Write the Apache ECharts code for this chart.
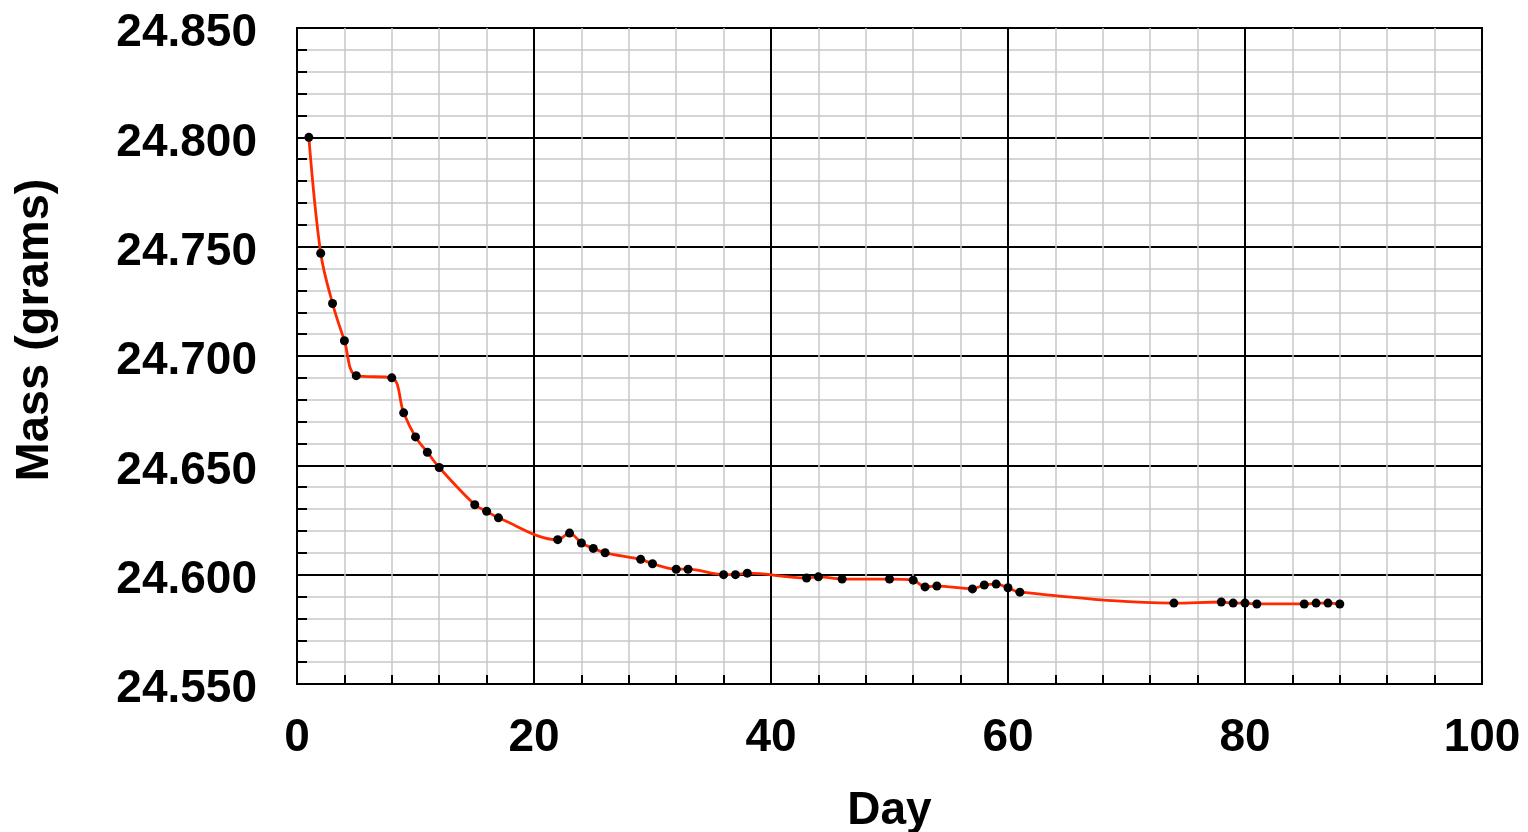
<!DOCTYPE html>
<html>
<head>
<meta charset="utf-8">
<script src="https://cdn.jsdelivr.net/npm/echarts@6/dist/echarts.min.js"></script>
<style>
html,body{margin:0;padding:0;background:#fff;}
#chart{width:1528px;height:832px;}
</style>
</head>
<body>
<div id="chart"></div>
<script>
const days = [1,2,3,4,5,8,9,10,11,12,15,16,17,22,23,24,25,26,29,30,32,33,36,37,38,43,44,46,50,52,53,54,57,58,59,60,61,74,78,79,80,81,85,86,87,88];
const mass = [24.800,24.747,24.724,24.707,24.691,24.690,24.674,24.663,24.656,24.649,24.632,24.629,24.626,24.616,24.619,24.6145,24.612,24.610,24.607,24.605,24.6025,24.6025,24.600,24.600,24.6007,24.5985,24.599,24.598,24.598,24.5975,24.5944,24.5948,24.5935,24.5953,24.5957,24.594,24.592,24.587,24.5875,24.587,24.587,24.5866,24.5866,24.587,24.587,24.5866];
const xTicks = [0,20,40,60,80,100];
const yTicks = ['24.550','24.600','24.650','24.700','24.750','24.800','24.850'];

const font = '"Liberation Sans", Arial, Helvetica, sans-serif';
const chart = echarts.init(document.getElementById('chart'), null, {renderer:'canvas'});
const points = days.map((d,i)=>[d, mass[i]]);
chart.setOption({
  animation:false,
  backgroundColor:'#fff',
  grid:{left:297,right:46,top:28,bottom:148,containLabel:false,outerBoundsMode:'none',show:true,borderColor:'#000',borderWidth:2,backgroundColor:'transparent'},
  xAxis:{
    type:'value',min:xTicks[0],max:xTicks[xTicks.length-1],interval:20,
    name:'Day',nameLocation:'middle',nameGap:104,
    nameTextStyle:{fontFamily:font,fontWeight:'bold',fontSize:46,color:'#000'},
    axisLine:{show:true,onZero:false,lineStyle:{color:'#000',width:2}},
    axisTick:{show:true,inside:true,length:9,lineStyle:{color:'#000',width:2}},
    minorTick:{show:true,splitNumber:5,length:9,lineStyle:{color:'#000',width:2}},
    axisLabel:{margin:31,fontFamily:font,fontWeight:'bold',fontSize:46,color:'#000',formatter:v=>String(v)},
    splitLine:{show:true,lineStyle:{color:'#000',width:2}},
    minorSplitLine:{show:true,lineStyle:{color:'#c8c8c8',width:1.5}}
  },
  yAxis:{
    type:'value',min:24.55,max:24.85,interval:0.05,
    name:'Mass (grams)',nameLocation:'middle',nameGap:238,nameRotate:90,
    nameTextStyle:{fontFamily:font,fontWeight:'bold',fontSize:47,color:'#000',padding:[0,0,0,52]},
    axisLine:{show:true,onZero:false,lineStyle:{color:'#000',width:2}},
    axisTick:{show:true,inside:true,length:10,lineStyle:{color:'#000',width:2}},
    minorTick:{show:true,splitNumber:5,length:10,lineStyle:{color:'#000',width:2}},
    axisLabel:{margin:40,color:'#000',
      rich:{t:{fontFamily:font,fontWeight:'bold',fontSize:46,color:'#000',padding:[11,0,0,0]}},
      formatter:v=>{const s=v.toFixed(3);return yTicks.includes(s)?'{t|'+s+'}':'';}},
    splitLine:{show:true,lineStyle:{color:'#000',width:2}},
    minorSplitLine:{show:true,lineStyle:{color:'#c8c8c8',width:1.5}}
  },
  series:[{
    type:'line',data:points,smooth:0.35,
    lineStyle:{color:'#ff2a00',width:2.8},
    symbol:'circle',symbolSize:9,
    itemStyle:{color:'#000',borderColor:'#000',borderWidth:0},
    z:5
  }]
});
</script>
</body>
</html>
